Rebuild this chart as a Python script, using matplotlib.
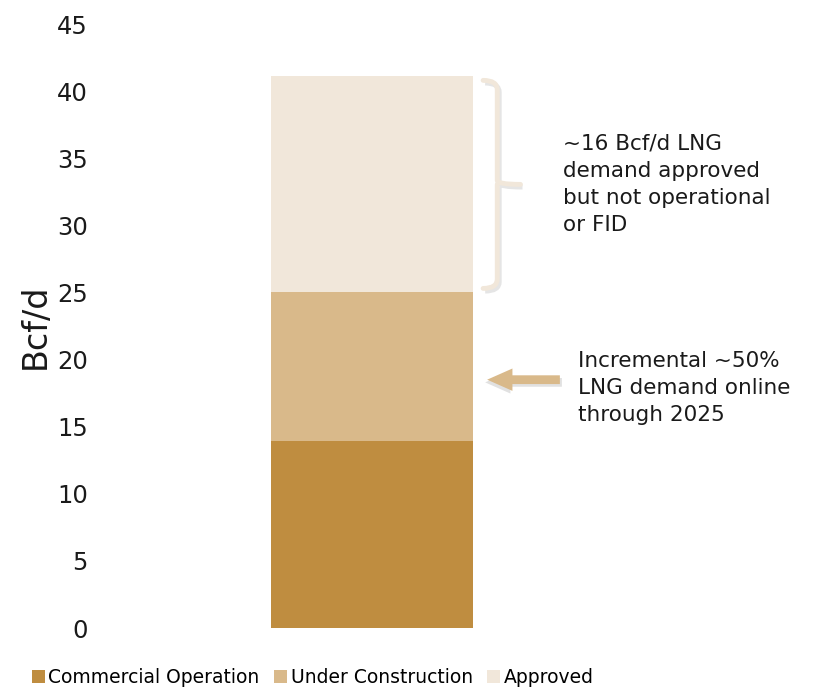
import matplotlib.pyplot as plt
from matplotlib.path import Path
from matplotlib.patches import PathPatch, Patch

plt.rcParams['font.family'] = ['DejaVu Sans']

categories = ["Commercial Operation", "Under Construction", "Approved"]
values = [13.9, 11.1, 16.1]
colors = ["#BF8D40", "#D9B98A", "#F1E7DA"]
yticks = [0, 5, 10, 15, 20, 25, 30, 35, 40, 45]

note_top = "~16 Bcf/d LNG\ndemand approved\nbut not operational\nor FID"
note_mid = "Incremental ~50%\nLNG demand online\nthrough 2025"

fig = plt.figure(figsize=(8.17, 6.89), dpi=100)
ax = fig.add_axes([106 / 817, 61 / 689, 711 / 817, 604 / 689])

bottom = 0
bounds = []
for cat, v, c in zip(categories, values, colors):
    ax.bar(0, v, width=1.0, bottom=bottom, color=c, label=cat)
    bounds.append((bottom, bottom + v))
    bottom += v

ax.set_xlim(-1.317, 2.203)
ax.set_ylim(0, 45)
ax.set_yticks(yticks)
ax.set_xticks([])
ax.tick_params(axis='y', length=0, pad=13, labelsize=17.5, labelcolor='#1a1a1a')
for s in ax.spines.values():
    s.set_visible(False)
ax.set_ylabel("Bcf/d", fontsize=24, color='#1a1a1a', labelpad=4)

# curly brace around the approved segment
y0, y1 = bounds[2]
y0 += 0.3
y1 -= 0.3
ym = (y0 + y1) / 2
xa, xb, xt = 0.55, 0.62, 0.735
r = 0.7
verts = [(xa, y1), (xb, y1), (xb, y1 - r),
         (xb, ym + 0.3), (xb, ym), (xt, ym),
         (xb, ym), (xb, ym - 0.3),
         (xb, y0 + r), (xb, y0), (xa, y0)]
codes = [Path.MOVETO, Path.CURVE3, Path.CURVE3,
         Path.LINETO, Path.CURVE3, Path.CURVE3,
         Path.MOVETO, Path.CURVE3,
         Path.LINETO, Path.CURVE3, Path.CURVE3]
shadow = PathPatch(Path([(x + 0.01, y - 0.2) for x, y in verts], codes),
                   fill=False, lw=3.5, edgecolor='#999999', alpha=0.25, clip_on=False)
ax.add_patch(shadow)
brace = PathPatch(Path(verts, codes), fill=False, lw=3.5, edgecolor=colors[2],
                  capstyle='round', joinstyle='round', clip_on=False)
ax.add_patch(brace)

ax.text(0.946, ym, note_top, fontsize=15.5, va='center', ha='left',
        linespacing=1.45, color='#1a1a1a')

# arrow to under construction segment
ya = 18.5
style = 'simple,head_length=1.3,head_width=1.15,tail_width=0.45'
ax.annotate("", xy=(0.56, ya - 0.2), xytext=(0.94, ya - 0.2),
            arrowprops=dict(arrowstyle=style, mutation_scale=14,
                            color='#aaaaaa', alpha=0.35, lw=0, shrinkA=0, shrinkB=0))
ax.annotate("", xy=(0.57, ya), xytext=(0.93, ya),
            arrowprops=dict(arrowstyle=style, mutation_scale=14,
                            color=colors[1], lw=0, shrinkA=0, shrinkB=0))
ax.text(1.02, 17.9, note_mid, fontsize=15.5, va='center', ha='left',
        linespacing=1.45, color='#1a1a1a')

handles = [Patch(facecolor=c, label=cat) for cat, c in zip(categories, colors)]
fig.legend(handles=handles, loc='lower left', bbox_to_anchor=(0.018, -0.022),
           ncol=3, frameon=False, fontsize=13.5, handlelength=0.7, handleheight=0.7,
           handletextpad=0.2, columnspacing=0.75)

fig.savefig("out.png", dpi=100)
